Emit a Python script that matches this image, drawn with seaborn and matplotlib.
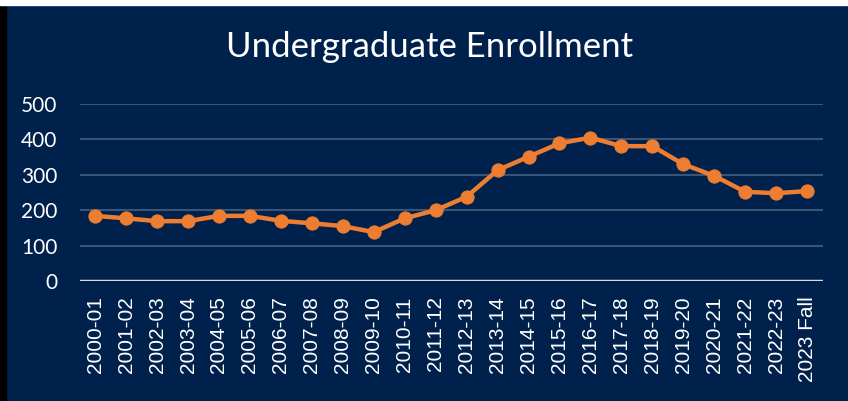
import matplotlib
matplotlib.use("Agg")
import matplotlib.pyplot as plt
import seaborn as sns
import pandas as pd
from matplotlib.patches import Rectangle

years = ["2000-01", "2001-02", "2002-03", "2003-04", "2004-05", "2005-06",
         "2006-07", "2007-08", "2008-09", "2009-10", "2010-11", "2011-12",
         "2012-13", "2013-14", "2014-15", "2015-16", "2016-17", "2017-18",
         "2018-19", "2019-20", "2020-21", "2021-22", "2022-23", "2023 Fall"]
enrollment = [184, 177, 169, 169, 184, 184, 170, 163, 155, 138, 177, 200,
              238, 313, 351, 389, 405, 381, 381, 330, 297, 252, 248, 254]

df = pd.DataFrame({"year": years, "enrollment": enrollment})

navy = "#00214B"
orange = "#ED7D31"

sns.set_theme(style="white")
fig = plt.figure(figsize=(8.48, 4.01), dpi=100, facecolor=navy)
ax = fig.add_axes([0.094, 0.2993, 0.876, 0.4413])
ax.set_facecolor(navy)

sns.lineplot(data=df, x="year", y="enrollment", ax=ax, color=orange,
             linewidth=3.2, marker="o", markersize=9.5, markeredgecolor=orange,
             sort=False)

ax.set_ylim(0, 500)
ax.set_xlim(-0.5, len(years) - 0.5)
ax.set_yticks([0, 100, 200, 300, 400, 500])
for v in [100, 200, 300, 400, 500]:
    ax.axhline(v, color="#3A5477", linewidth=1.5, zorder=0)
ax.axhline(0, color="#D9D9D9", linewidth=2.5, zorder=1)

for s in ax.spines.values():
    s.set_visible(False)
ax.set_xlabel("")
ax.set_ylabel("")
ax.tick_params(axis="x", colors="white", length=0, pad=11, labelrotation=90)
ax.tick_params(axis="y", colors="white", length=0, pad=16)
for lab in ax.get_xticklabels():
    lab.set_fontfamily("Liberation Sans")
    lab.set_fontsize(15)
for lab in ax.get_yticklabels():
    lab.set_fontfamily("Lato")
    lab.set_fontsize(15)

fig.text(0.507, 0.882, "Undergraduate Enrollment", color="white",
         fontsize=25, family="Lato", ha="center", va="center")

# frame strips
fig.patches.append(Rectangle((0, 0), 0.007, 1, transform=fig.transFigure,
                             color="black", zorder=5))
fig.patches.append(Rectangle((0, 0.988), 1, 0.012, transform=fig.transFigure,
                             color="white", zorder=5))

fig.savefig("out.png", dpi=100, facecolor=navy)
